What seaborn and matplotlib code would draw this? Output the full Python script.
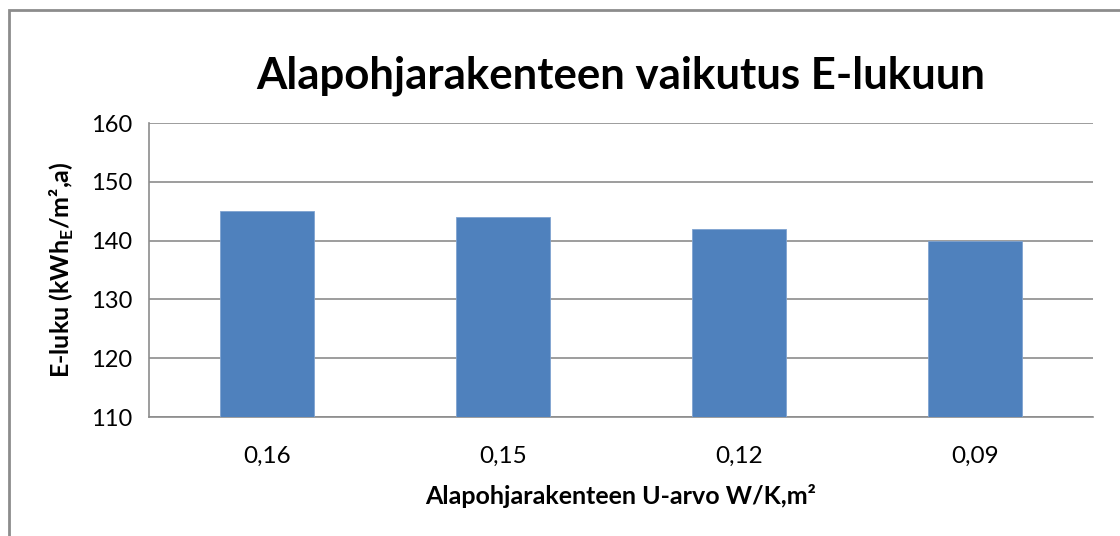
import matplotlib
matplotlib.use("Agg")
import matplotlib.pyplot as plt
import seaborn as sns
import pandas as pd
from matplotlib.patches import Rectangle

categories = ["0,16", "0,15", "0,12", "0,09"]
values = [145, 144, 142, 140]
yticks = [110, 120, 130, 140, 150, 160]

title = "Alapohjarakenteen vaikutus E-lukuun"
xlabel = "Alapohjarakenteen U-arvo W/K,m²"
ylabel = r"E-luku (kWh$_{\mathbf{E}}$/m²,a)"

sns.set_theme(style="white")
plt.rcParams['font.family'] = ['Lato', 'DejaVu Sans']
plt.rcParams['mathtext.fontset'] = 'custom'
plt.rcParams['mathtext.bf'] = 'Lato:bold'
plt.rcParams['mathtext.rm'] = 'Lato'
plt.rcParams['text.color'] = 'black'
plt.rcParams['axes.labelcolor'] = 'black'
plt.rcParams['xtick.color'] = 'black'
plt.rcParams['ytick.color'] = 'black'

df = pd.DataFrame({"u": categories, "e": values})

fig = plt.figure(figsize=(11.2, 5.36), dpi=100)
ax = fig.add_axes([149/1120, 1-417/536, (1093-149)/1120, (417-123)/536])

sns.barplot(data=df, x="u", y="e", ax=ax, color="#4F81BD", width=0.4,
            saturation=1, edgecolor="#7FA3D0", linewidth=0.6, zorder=3)

ax.set_ylim(110, 160)
ax.set_xlim(-0.5, len(categories) - 0.5)
ax.set_yticks(yticks)
ax.set_yticklabels([str(v) for v in yticks], fontsize=17)
ax.yaxis.grid(True, color="#8C8C8C", linewidth=1.2, zorder=0)
ax.set_axisbelow(True)

# Excel-style x ticks between categories
ax.set_xticks(range(len(categories)))
ax.set_xticklabels(categories, fontsize=17.5)
ax.tick_params(axis="x", which="major", length=0, pad=21, labelcolor="black")
ax.set_xticks([i - 0.5 for i in range(len(categories) + 1)], minor=True)
ax.tick_params(axis="x", which="minor", length=6, width=1.2, color="#8C8C8C", direction="out")
ax.tick_params(axis="y", length=6, width=1.2, color="#8C8C8C", direction="out", pad=6,
               labelcolor="black")

for s in ["top", "right"]:
    ax.spines[s].set_visible(False)
for s in ["left", "bottom"]:
    ax.spines[s].set_color("#8C8C8C")
    ax.spines[s].set_linewidth(1.2)

ax.set_xlabel(xlabel, fontsize=18, fontweight="bold", labelpad=12)
ax.set_ylabel(ylabel, fontsize=18, fontweight="bold", labelpad=11)

fig.text(621/1120, 1-76/536, title, fontsize=31.5, fontweight="bold",
         ha="center", va="center", color="black")

# chart area frame
fig.patches.append(Rectangle((9/1120, -0.1), 1.2, 1 - 10/536 + 0.1,
                             transform=fig.transFigure, fill=False,
                             edgecolor="#8C8C8C", linewidth=2))

fig.savefig("out.png", dpi=100)
